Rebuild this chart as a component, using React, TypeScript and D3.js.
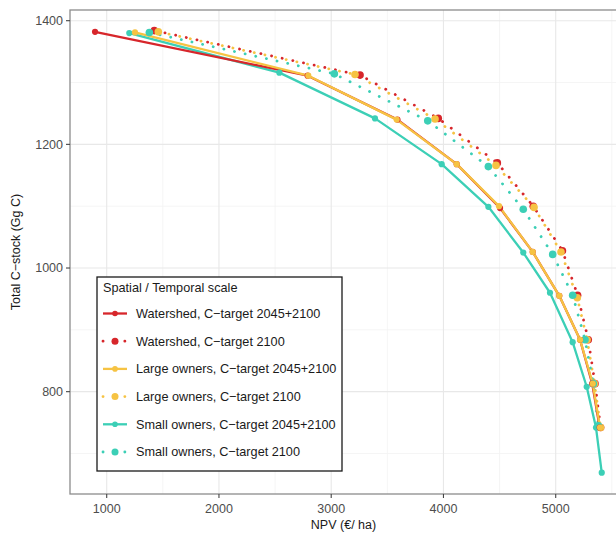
import React from 'react';
import * as d3 from 'd3';

// NPV (€/ha) and total C-stock (Gg C)
const watershedAllX = [896, 2790, 3590, 4118, 4504, 4795, 5032, 5217, 5325, 5392];
const watershedAllY = [1382, 1311, 1240, 1168, 1097, 1026, 955, 884, 813, 742];
const watershed2100X = [1424, 3257, 3954, 4480, 4800, 5060, 5195, 5290, 5350, 5400];
const watershed2100Y = [1384, 1312, 1242, 1170, 1100, 1028, 956, 884, 813, 742];
const largeAllX = [1252, 2796, 3583, 4118, 4495, 4795, 5032, 5217, 5330, 5395];
const largeAllY = [1381, 1311, 1240, 1168, 1100, 1026, 955, 884, 813, 742];
const large2100X = [1460, 3212, 3925, 4468, 4807, 5047, 5192, 5280, 5345, 5400];
const large2100Y = [1382, 1313, 1241, 1166, 1098, 1026, 952, 884, 813, 742];
const smallAllX = [1201, 2538, 3390, 3984, 4400, 4711, 4949, 5151, 5276, 5359, 5410];
const smallAllY = [1380, 1316, 1242, 1168, 1099, 1025, 960, 880, 808, 742, 669];
const small2100X = [1380, 3028, 3860, 4400, 4711, 4973, 5151, 5261, 5335, 5380];
const small2100Y = [1381, 1314, 1238, 1164, 1095, 1022, 956, 884, 813, 745];

const xTicks = [1000, 2000, 3000, 4000, 5000];
const xMinor = [1500, 2500, 3500, 4500, 5500];
const yTicks = [800, 1000, 1200, 1400];
const yMinor = [700, 900, 1100, 1300];

const RED = '#d7262b';
const YELLOW = '#f6c343';
const TEAL = '#3ccfb6';

const series = [
  { label: 'Watershed, C\u2212target 2045+2100', xs: watershedAllX, ys: watershedAllY, color: RED, dotted: false },
  { label: 'Watershed, C\u2212target 2100', xs: watershed2100X, ys: watershed2100Y, color: RED, dotted: true },
  { label: 'Large owners, C\u2212target 2045+2100', xs: largeAllX, ys: largeAllY, color: YELLOW, dotted: false },
  { label: 'Large owners, C\u2212target 2100', xs: large2100X, ys: large2100Y, color: YELLOW, dotted: true },
  { label: 'Small owners, C\u2212target 2045+2100', xs: smallAllX, ys: smallAllY, color: TEAL, dotted: false },
  { label: 'Small owners, C\u2212target 2100', xs: small2100X, ys: small2100Y, color: TEAL, dotted: true },
];

// draw order: dotted first, then solid on top
const drawOrder = [1, 3, 5, 4, 0, 2];

const W = 616;
const H = 534;
const panel = { left: 70, top: 10, right: 617, bottom: 494 };
const font = '"Liberation Sans", Arial, Helvetica, sans-serif';

export default function App() {
  const x = d3.scaleLinear().domain([673, 5546]).range([panel.left, panel.right]);
  const y = d3.scaleLinear().domain([634.5, 1417.3]).range([panel.bottom, panel.top]);

  const line = d3.line<[number, number]>()
    .x(d => x(d[0]))
    .y(d => y(d[1]));

  const pts = (s: typeof series[number]) => s.xs.map((v, i) => [v, s.ys[i]] as [number, number]);

  const legend = { x: 97, y: 277, w: 245, h: 194 };
  const rowY = (i: number) => 313.5 + i * 27.7;

  return (
    <svg width={W} height={H} style={{ position: 'absolute', left: 0, top: 0, fontFamily: font, background: '#fff' }}>
      <rect x={0} y={0} width={W} height={H} fill="#fff" />
      <defs>
        <clipPath id="panel-clip">
          <rect x={panel.left} y={panel.top} width={panel.right - panel.left} height={panel.bottom - panel.top} />
        </clipPath>
      </defs>

      {/* grid */}
      {xMinor.map(t => (
        <line key={`xm-${t}`} x1={x(t)} x2={x(t)} y1={panel.top} y2={panel.bottom} stroke="#f2f2f2" strokeWidth={0.8} />
      ))}
      {yMinor.map(t => (
        <line key={`ym-${t}`} x1={panel.left} x2={panel.right} y1={y(t)} y2={y(t)} stroke="#f2f2f2" strokeWidth={0.8} />
      ))}
      {xTicks.map(t => (
        <line key={`xg-${t}`} x1={x(t)} x2={x(t)} y1={panel.top} y2={panel.bottom} stroke="#e8e8e8" strokeWidth={1.1} />
      ))}
      {yTicks.map(t => (
        <line key={`yg-${t}`} x1={panel.left} x2={panel.right} y1={y(t)} y2={y(t)} stroke="#e8e8e8" strokeWidth={1.1} />
      ))}

      {/* series */}
      <g clipPath="url(#panel-clip)">
        {drawOrder.map(i => {
          const s = series[i];
          return (
            <path
              key={`l-${i}`}
              d={line(pts(s)) || ''}
              fill="none"
              stroke={s.color}
              strokeWidth={s.dotted ? 2.8 : 2.3}
              strokeDasharray={s.dotted ? '0.1 10.8' : undefined}
              strokeLinecap={s.dotted ? 'round' : 'butt'}
              strokeLinejoin="round"
            />
          );
        })}
        {drawOrder.map(i => {
          const s = series[i];
          return pts(s).map((p, j) => (
            <circle key={`p-${i}-${j}`} cx={x(p[0])} cy={y(p[1])} r={s.dotted ? 3.8 : 3.1} fill={s.color} />
          ));
        })}
      </g>

      {/* panel border */}
      <rect x={panel.left} y={panel.top} width={panel.right - panel.left} height={panel.bottom - panel.top}
        fill="none" stroke="#8c8c8c" strokeWidth={1.3} />

      {/* x axis */}
      {xTicks.map(t => (
        <g key={`xt-${t}`}>
          <line x1={x(t)} x2={x(t)} y1={panel.bottom} y2={panel.bottom + 4} stroke="#444" strokeWidth={1.1} />
          <text x={x(t)} y={panel.bottom + 19} textAnchor="middle" fontSize={12.5} fill="#4d4d4d">{t}</text>
        </g>
      ))}
      <text x={(panel.left + panel.right) / 2} y={panel.bottom + 35} textAnchor="middle" fontSize={12.5} fill="#1a1a1a">
        NPV (€/ ha)
      </text>

      {/* y axis */}
      {yTicks.map(t => (
        <g key={`yt-${t}`}>
          <line x1={panel.left - 4} x2={panel.left} y1={y(t)} y2={y(t)} stroke="#444" strokeWidth={1.1} />
          <text x={panel.left - 7} y={y(t) + 4.3} textAnchor="end" fontSize={12.5} fill="#4d4d4d">{t}</text>
        </g>
      ))}
      <text transform={`translate(19.5, ${(panel.top + panel.bottom) / 2}) rotate(-90)`} textAnchor="middle" fontSize={12.5} fill="#1a1a1a">
        Total C{'\u2212'}stock (Gg C)
      </text>

      {/* legend */}
      <rect x={legend.x} y={legend.y} width={legend.w} height={legend.h} fill="#fff" stroke="#1a1a1a" strokeWidth={1.3} />
      <text x={103} y={292} fontSize={12.7} fill="#1a1a1a">Spatial / Temporal scale</text>
      {series.map((s, i) => (
        <g key={`lg-${i}`}>
          <line x1={103} x2={127} y1={rowY(i)} y2={rowY(i)} stroke={s.color}
            strokeWidth={s.dotted ? 2.8 : 2.3}
            strokeDasharray={s.dotted ? '0.1 10.8' : undefined}
            strokeLinecap={s.dotted ? 'round' : 'butt'} />
          <circle cx={115} cy={rowY(i)} r={s.dotted ? 3.5 : 2.8} fill={s.color} />
          <text x={136} y={rowY(i) + 4.4} fontSize={12.7} fill="#1a1a1a">{s.label}</text>
        </g>
      ))}
    </svg>
  );
}
